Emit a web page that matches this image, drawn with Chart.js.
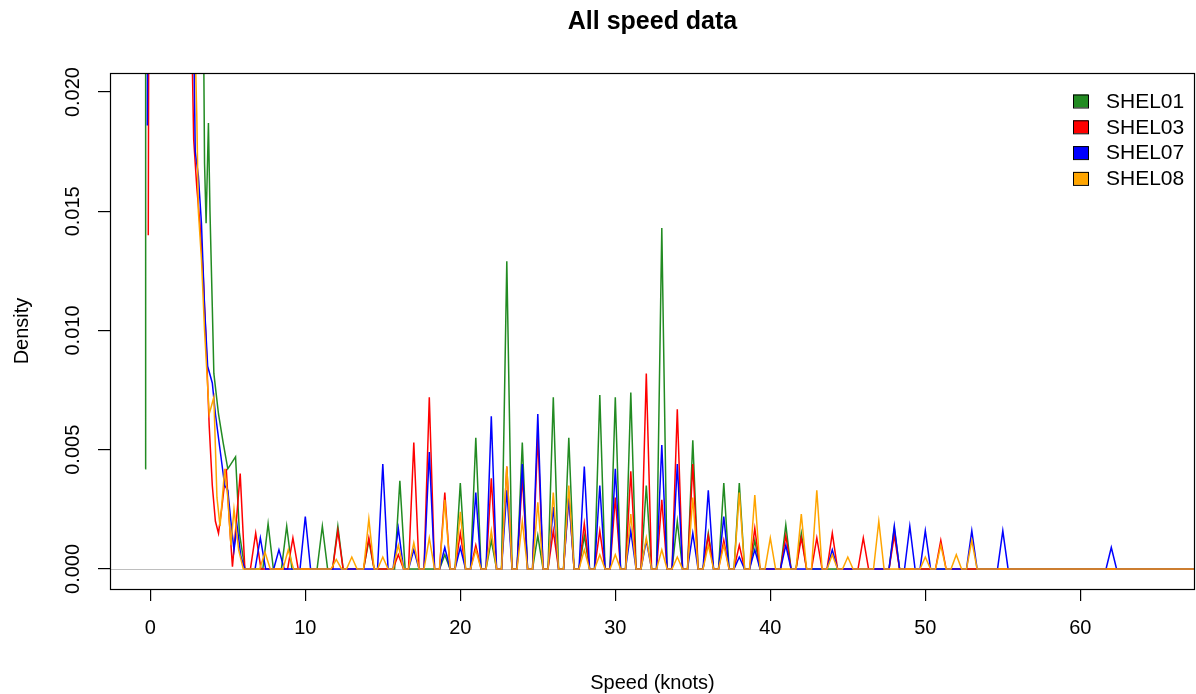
<!DOCTYPE html>
<html>
<head>
<meta charset="utf-8">
<script src="https://cdn.jsdelivr.net/npm/chart.js@4/dist/chart.umd.min.js"></script>
<style>
  body { margin: 0; background: #fff; }
  #wrap { width: 1196px; height: 694px; }
</style>
</head>
<body>
<div id="wrap"><canvas id="speedChart" width="1196" height="694"></canvas></div>
<script>
// values (speed in knots, density)
const seriesNames = ['SHEL01', 'SHEL03', 'SHEL07', 'SHEL08'];
const xTicks = [0, 10, 20, 30, 40, 50, 60];
const yTicks = [0, 0.005, 0.010, 0.015, 0.020];
const yTickLabels = ['0.000', '0.005', '0.010', '0.015', '0.020'];

// low speed part of each curve (goes off the top of the plot near 0 knots)
const shel01LowSpeed = [-0.33, -0.3, 3.35, 3.5, 3.6, 3.75, 3.85, 4.0, 4.1, 4.4, 4.7, 5.0, 5.3, 5.5, 5.75, 6.1];
const shel01LowDens = [0.0042, 0.03, 0.03, 0.017, 0.0145, 0.0187, 0.015, 0.011, 0.0082, 0.0065, 0.0053, 0.0042, 0.0045, 0.0047, 0.0015, 0];
const shel03LowSpeed = [-0.13, -0.08, 2.6, 2.8, 3.0, 3.2, 3.4, 3.6, 3.8, 4.0, 4.2, 4.4, 4.6, 4.9, 5.1, 5.3, 5.55, 5.8, 6.1];
const shel03LowDens = [0.014, 0.03, 0.025, 0.018, 0.016, 0.0145, 0.0125, 0.0095, 0.006, 0.0035, 0.002, 0.0015, 0.0025, 0.0042, 0.002, 0.0001, 0.002, 0.004, 0];
const shel07LowSpeed = [-0.19, -0.14, 2.75, 2.9, 3.1, 3.3, 3.5, 3.7, 4.0, 4.2, 4.5, 4.8, 5.0, 5.2, 5.4, 5.6, 5.85, 6.1];
const shel07LowDens = [0.0186, 0.03, 0.025, 0.0175, 0.0165, 0.0145, 0.011, 0.0085, 0.0078, 0.0065, 0.005, 0.0035, 0.0033, 0.002, 0.0008, 0.0018, 0.0005, 0];
const shel08LowSpeed = [2.6, 3.0, 3.1, 3.3, 3.5, 3.8, 4.1, 4.3, 4.5, 4.8, 5.0, 5.2, 5.4, 5.7, 6.0];
const shel08LowDens = [0.03, 0.019, 0.015, 0.013, 0.01, 0.0065, 0.0072, 0.003, 0.0018, 0.0042, 0.003, 0.001, 0.0025, 0.0008, 0];

// narrow peaks at whole-knot speeds
const shel01PeakSpeed = [7.6, 8.8, 11.1, 12.1, 14.1, 16.1, 19, 20, 21, 22, 23, 24, 25, 26, 27, 28, 29, 30, 31, 32, 33, 34, 35, 36, 37, 38, 39, 41, 42, 48];
const shel01PeakDens = [0.0019, 0.0018, 0.0018, 0.0018, 0.0012, 0.0037, 0.0006, 0.0036, 0.0055, 0.0012, 0.0129, 0.0053, 0.0014, 0.0072, 0.0055, 0.0014, 0.0073, 0.0072, 0.0074, 0.0035, 0.0143, 0.002, 0.0054, 0.0015, 0.0036, 0.0036, 0.0012, 0.00185, 0.0015, 0.0017];
const shel03PeakSpeed = [6.8, 9.2, 12.1, 14.1, 16, 17, 18, 19, 20, 21, 22, 23, 24, 25, 26, 27, 28, 29, 30, 31, 32, 33, 34, 35, 36, 37, 38, 39, 41, 42, 43, 44, 46, 48, 51];
const shel03PeakDens = [0.0015, 0.0013, 0.0016, 0.0013, 0.0006, 0.0053, 0.0072, 0.0032, 0.0015, 0.001, 0.0038, 0.0043, 0.0039, 0.0056, 0.0016, 0.0031, 0.0019, 0.0016, 0.003, 0.0041, 0.0082, 0.0029, 0.0067, 0.0044, 0.0014, 0.0012, 0.001, 0.0017, 0.0014, 0.0013, 0.0013, 0.0015, 0.0013, 0.0014, 0.0012];
const shel07PeakSpeed = [7.1, 8.3, 10, 15, 16, 17, 18, 19, 20, 21, 22, 23, 24, 25, 26, 27, 28, 29, 30, 31, 32, 33, 34, 35, 36, 37, 38, 39, 41, 44, 48, 49, 50, 53, 55, 62];
const shel07PeakDens = [0.0013, 0.0008, 0.0022, 0.0044, 0.0017, 0.0008, 0.0049, 0.0009, 0.0009, 0.0032, 0.0064, 0.0033, 0.0044, 0.0065, 0.0026, 0.003, 0.0043, 0.0035, 0.0042, 0.0016, 0.0012, 0.0052, 0.0044, 0.0015, 0.0033, 0.0022, 0.0005, 0.0008, 0.001, 0.0008, 0.0018, 0.0018, 0.0016, 0.0016, 0.0016, 0.0009];
const shel08PeakSpeed = [7.4, 8.9, 12, 13, 14.1, 15, 16, 17, 18, 19, 20, 21, 22, 23, 24, 25, 26, 27, 28, 29, 30, 31, 32, 33, 34, 35, 36, 37, 38, 39, 40, 42, 43, 44, 45, 47, 50, 51, 52, 53];
const shel08PeakDens = [0.0007, 0.0008, 0.0004, 0.0005, 0.0021, 0.0005, 0.001, 0.0011, 0.0013, 0.0029, 0.0024, 0.0008, 0.0016, 0.0043, 0.002, 0.0028, 0.0032, 0.0035, 0.0008, 0.0006, 0.0006, 0.0023, 0.0013, 0.0008, 0.0005, 0.003, 0.001, 0.001, 0.0032, 0.0031, 0.0013, 0.0023, 0.0033, 0.0006, 0.0005, 0.002, 0.0005, 0.001, 0.0006, 0.0012];

const endSpeed = 68;
const peakHalfWidth = 0.34;
const colours = ['#228B22', '#FF0000', '#0000FF', '#FFA500'];

function buildCurve(lowSpeed, lowDens, peakSpeed, peakDens) {
    let pts = [];
    for (let i = 0; i < lowSpeed.length; i++) {
        pts.push({ x: lowSpeed[i], y: lowDens[i] });
    }
    for (let i = 0; i < peakSpeed.length; i++) {
        pts.push({ x: peakSpeed[i] - peakHalfWidth, y: 0 });
        pts.push({ x: peakSpeed[i], y: peakDens[i] });
        pts.push({ x: peakSpeed[i] + peakHalfWidth, y: 0 });
    }
    pts.push({ x: endSpeed, y: 0 });
    return pts;
}

const curves = [
    buildCurve(shel01LowSpeed, shel01LowDens, shel01PeakSpeed, shel01PeakDens),
    buildCurve(shel03LowSpeed, shel03LowDens, shel03PeakSpeed, shel03PeakDens),
    buildCurve(shel07LowSpeed, shel07LowDens, shel07PeakSpeed, shel07PeakDens),
    buildCurve(shel08LowSpeed, shel08LowDens, shel08PeakSpeed, shel08PeakDens)
];

const FONT = '"Liberation Sans", Arial, sans-serif';

// box, zero line, title, axis labels, rotated y labels and legend in R style
const rStyle = {
    id: 'rStyle',
    beforeDatasetsDraw(chart) {
        let ctx = chart.ctx;
        let a = chart.chartArea;
        let y0 = chart.scales.y.getPixelForValue(0);
        ctx.save();
        ctx.strokeStyle = '#bebebe';
        ctx.lineWidth = 1;
        ctx.beginPath();
        ctx.moveTo(a.left, Math.round(y0) + 0.5);
        ctx.lineTo(a.right, Math.round(y0) + 0.5);
        ctx.stroke();
        ctx.restore();
    },
    afterDraw(chart) {
        let ctx = chart.ctx;
        let a = chart.chartArea;
        ctx.save();
        ctx.strokeStyle = '#000';
        ctx.lineWidth = 1.2;
        ctx.strokeRect(a.left + 0.5, a.top + 0.5, a.right - a.left - 1, a.bottom - a.top);

        ctx.fillStyle = '#000';
        ctx.textAlign = 'center';
        ctx.textBaseline = 'middle';
        ctx.font = 'bold 25px ' + FONT;
        ctx.fillText('All speed data', (a.left + a.right) / 2, 22);

        ctx.font = '20px ' + FONT;
        ctx.fillText('Speed (knots)', (a.left + a.right) / 2, 683);

        ctx.save();
        ctx.translate(22, (a.top + a.bottom) / 2);
        ctx.rotate(-Math.PI / 2);
        ctx.fillText('Density', 0, 0);
        ctx.restore();

        // y tick labels, rotated like R's las = 0
        let ys = chart.scales.y;
        yTicks.forEach((v, i) => {
            ctx.save();
            ctx.translate(73, ys.getPixelForValue(v));
            ctx.rotate(-Math.PI / 2);
            ctx.fillText(yTickLabels[i], 0, 0);
            ctx.restore();
        });

        // legend
        ctx.font = '21px ' + FONT;
        ctx.textAlign = 'left';
        seriesNames.forEach((name, i) => {
            let cy = 101 + i * 25.8;
            ctx.fillStyle = colours[i];
            ctx.fillRect(1073, cy - 6.5, 15, 13);
            ctx.strokeStyle = '#000';
            ctx.lineWidth = 1;
            ctx.strokeRect(1073.5, cy - 6, 15, 13);
            ctx.fillStyle = '#000';
            ctx.fillText(name, 1106, cy + 1);
        });
        ctx.restore();
    }
};

const drawOrder = [4, 3, 2, 1];

new Chart(document.getElementById('speedChart'), {
    type: 'line',
    data: {
        datasets: curves.map((pts, i) => ({
            label: seriesNames[i],
            data: pts,
            borderColor: colours[i],
            backgroundColor: colours[i],
            borderWidth: 1.5,
            pointRadius: 0,
            tension: 0,
            fill: false,
            order: drawOrder[i]
        }))
    },
    options: {
        responsive: false,
        animation: false,
        layout: { padding: { top: 73, right: 1, left: 0, bottom: 0 } },
        plugins: {
            legend: { display: false },
            title: { display: false },
            tooltip: { enabled: false }
        },
        scales: {
            x: {
                type: 'linear',
                min: -2.6,
                max: 67.4,
                afterBuildTicks: (s) => { s.ticks = xTicks.map(v => ({ value: v })); },
                afterFit: (s) => { s.height = 105; },
                border: { display: false },
                grid: { drawOnChartArea: false, drawTicks: true, tickLength: 12, color: '#000', lineWidth: 1.2 },
                ticks: { color: '#000', font: { family: FONT, size: 20 }, padding: 15, maxRotation: 0, autoSkip: false }
            },
            y: {
                type: 'linear',
                min: -0.00084,
                max: 0.0208,
                afterBuildTicks: (s) => { s.ticks = yTicks.map(v => ({ value: v })); },
                afterFit: (s) => { s.width = 110; },
                border: { display: false },
                grid: { drawOnChartArea: false, drawTicks: true, tickLength: 12, color: '#000', lineWidth: 1.2 },
                ticks: { callback: () => '', color: '#000' }
            }
        }
    },
    plugins: [rStyle]
});
</script>
</body>
</html>
